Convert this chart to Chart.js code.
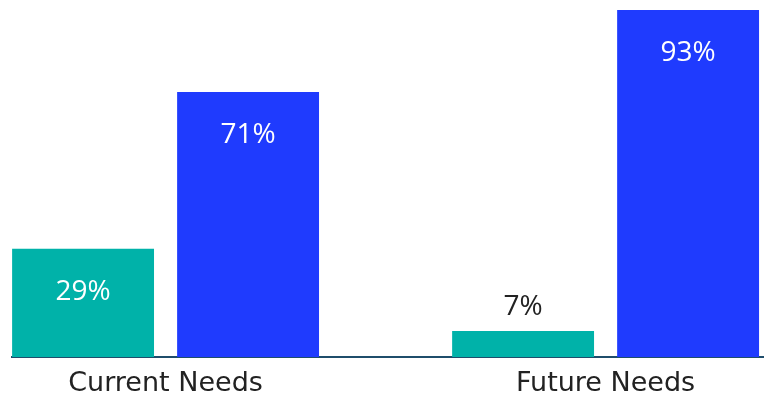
<!DOCTYPE html>
<html>
<head>
<meta charset="utf-8">
<script src="https://cdn.jsdelivr.net/npm/chart.js@4.4.1/dist/chart.umd.min.js"></script>
<style>
  html, body { margin: 0; padding: 0; background: #ffffff; }
  #wrap { width: 764px; height: 393px; }
</style>
</head>
<body>
<div id="wrap"><canvas id="c"></canvas></div>
<script>
const categories = ['Current Needs', 'Future Needs'];
const seriesNames = ['Series A', 'Series B'];
const seriesA = [29, 7];
const seriesB = [71, 93];

const toPoints = arr => arr.map((v, i) => ({ x: i, y: v }));

const labelPlugin = {
  id: 'barLabels',
  afterDatasetsDraw(chart) {
    const ctx = chart.ctx;
    ctx.save();
    ctx.font = '28px "Open Sans"';
    ctx.textAlign = 'center';
    ctx.textBaseline = 'middle';
    chart.data.datasets.forEach((ds, di) => {
      const meta = chart.getDatasetMeta(di);
      meta.data.forEach((bar, i) => {
        const v = ds.data[i].y;
        const txt = v + '%';
        if (v >= 15) {
          ctx.fillStyle = '#ffffff';
          ctx.fillText(txt, bar.x, bar.y + 43);
        } else {
          ctx.fillStyle = '#222222';
          ctx.fillText(txt, bar.x, bar.y - 24);
        }
      });
    });
    ctx.restore();
  }
};

new Chart(document.getElementById('c'), {
  type: 'bar',
  data: {
    datasets: [
      { label: seriesNames[0], data: toPoints(seriesA), backgroundColor: '#00B2A9', categoryPercentage: 0.75, barPercentage: 0.86, clip: false },
      { label: seriesNames[1], data: toPoints(seriesB), backgroundColor: '#1F3BFE', categoryPercentage: 0.75, barPercentage: 0.86, clip: false }
    ]
  },
  options: {
    responsive: true,
    maintainAspectRatio: false,
    animation: false,
    layout: { padding: { top: 10, left: 12, right: 0, bottom: 0 } },
    plugins: { legend: { display: false }, tooltip: { enabled: false } },
    scales: {
      x: {
        type: 'linear',
        min: -0.349,
        max: 1.36,
        offset: false,
        grid: { display: false },
        border: { display: true, color: '#1f4d6b', width: 2 },
        afterBuildTicks: scale => { scale.ticks = categories.map((c, i) => ({ value: i })); },
        afterFit: scale => { scale.height = 36; },
        ticks: {
          autoSkip: false,
          maxRotation: 0,
          padding: 4,
          color: '#222222',
          font: { family: '"DejaVu Sans"', size: 27, lineHeight: 1.1 },
          callback: v => categories[v]
        }
      },
      y: {
        display: false,
        min: 0,
        max: 93
      }
    }
  },
  plugins: [labelPlugin]
});
</script>
</body>
</html>
